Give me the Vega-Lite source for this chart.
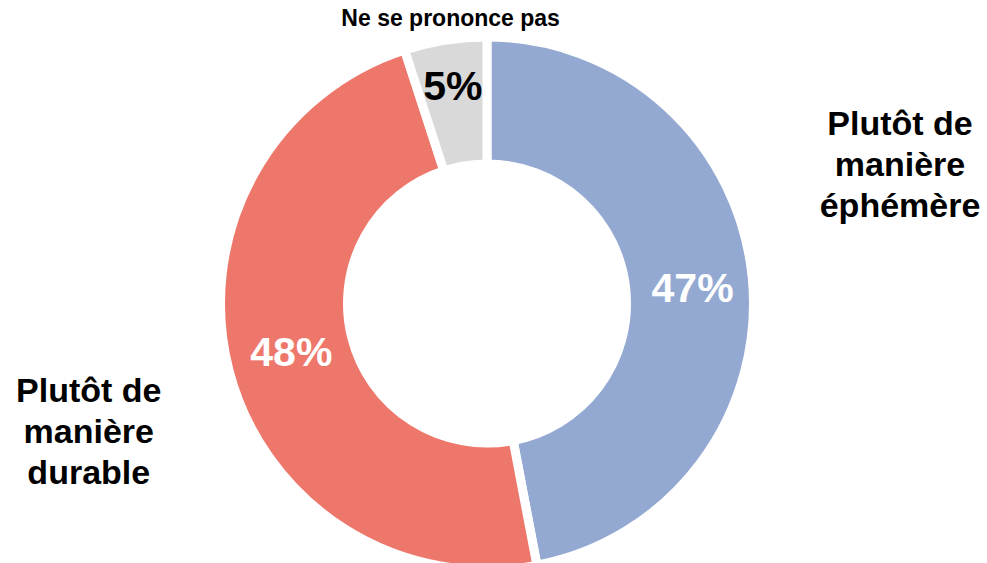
{
  "$schema": "https://vega.github.io/schema/vega-lite/v6.json",
  "autosize": "none",
  "width": 974,
  "height": 519,
  "padding": {"left": 0, "top": 44, "right": 13, "bottom": 0},
  "background": "white",
  "config": {"view": {"stroke": null}, "font": "Liberation Sans"},
  "data": {
    "values": [
      {"categorie": "Plutôt de manière éphémère", "etiquette": "Plutôt de\nmanière\néphémère", "part": 0.47, "ordre": 1},
      {"categorie": "Plutôt de manière durable", "etiquette": "Plutôt de\nmanière\ndurable", "part": 0.48, "ordre": 2},
      {"categorie": "Ne se prononce pas", "etiquette": "Ne se prononce pas", "part": 0.05, "ordre": 3}
    ]
  },
  "encoding": {
    "theta": {"field": "part", "type": "quantitative", "stack": true},
    "order": {"field": "ordre", "type": "quantitative"}
  },
  "layer": [
    {
      "mark": {"type": "arc", "outerRadius": 266.5, "innerRadius": 139.5, "stroke": "white", "strokeWidth": 9},
      "encoding": {
        "color": {
          "field": "categorie",
          "type": "nominal",
          "scale": {
            "domain": ["Plutôt de manière éphémère", "Plutôt de manière durable", "Ne se prononce pas"],
            "range": ["#93A9D2", "#EE776B", "#D9D9D9"]
          },
          "legend": null
        }
      }
    },
    {
      "mark": {"type": "text", "radius": 206, "thetaOffset": 0.03, "fontSize": 41, "fontWeight": "bold", "color": "white", "align": "center", "baseline": "middle"},
      "encoding": {
        "text": {"condition": {"test": "datum.ordre === 1", "field": "part", "format": ".0%"}, "value": ""}
      }
    },
    {
      "mark": {"type": "text", "radius": 202, "fontSize": 41, "fontWeight": "bold", "color": "white", "align": "center", "baseline": "middle"},
      "encoding": {
        "text": {"condition": {"test": "datum.ordre === 2", "field": "part", "format": ".0%"}, "value": ""}
      }
    },
    {
      "mark": {"type": "text", "radius": 218, "fontSize": 41, "fontWeight": "bold", "color": "black", "align": "center", "baseline": "middle"},
      "encoding": {
        "text": {"condition": {"test": "datum.ordre === 3", "field": "part", "format": ".0%"}, "value": ""}
      }
    },
    {
      "mark": {"type": "text", "radius": 450, "thetaOffset": -0.314, "fontSize": 34, "fontWeight": "bold", "color": "black", "align": "center", "baseline": "middle", "lineBreak": "\n", "lineHeight": 41},
      "encoding": {
        "text": {"condition": {"test": "datum.ordre === 1", "field": "etiquette"}, "value": ""}
      }
    },
    {
      "mark": {"type": "text", "radius": 408, "thetaOffset": 0.032, "fontSize": 34, "fontWeight": "bold", "color": "black", "align": "center", "baseline": "middle", "lineBreak": "\n", "lineHeight": 41},
      "encoding": {
        "text": {"condition": {"test": "datum.ordre === 2", "field": "etiquette"}, "value": ""}
      }
    },
    {
      "mark": {"type": "text", "radius": 287, "thetaOffset": 0.03, "fontSize": 23, "fontWeight": "bold", "color": "black", "align": "center", "baseline": "middle"},
      "encoding": {
        "text": {"condition": {"test": "datum.ordre === 3", "field": "etiquette"}, "value": ""}
      }
    }
  ]
}
